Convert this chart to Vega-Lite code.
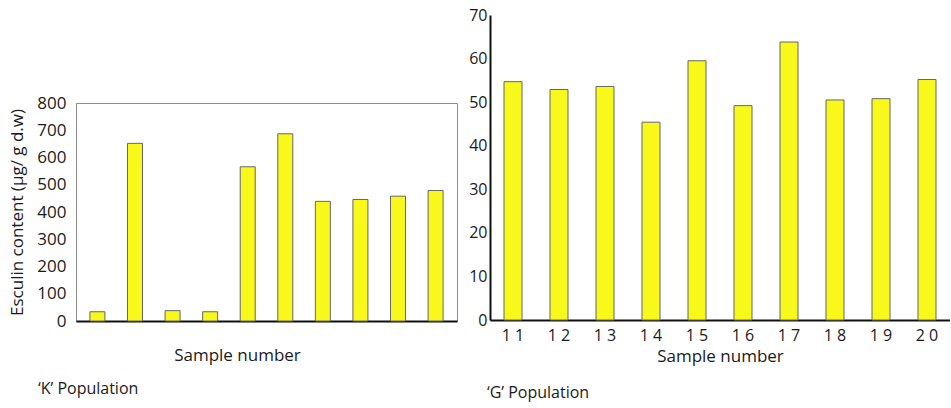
{
  "$schema": "https://vega.github.io/schema/vega-lite/v6.json",
  "padding": {"left": 8, "top": 7, "right": 0, "bottom": 5},
  "background": "white",
  "config": {
    "font": "Open Sans",
    "view": {"stroke": null},
    "axis": {"labelColor": "#1a1a1a", "titleColor": "#1a1a1a", "titleFontWeight": "normal", "grid": false, "ticks": false},
    "title": {"fontWeight": "normal", "fontSize": 16, "color": "#1a1a1a"}
  },
  "datasets": {
    "K": [
      {"sample": "1", "esculin": 34},
      {"sample": "2", "esculin": 652},
      {"sample": "3", "esculin": 38},
      {"sample": "4", "esculin": 34},
      {"sample": "5", "esculin": 566},
      {"sample": "6", "esculin": 687},
      {"sample": "7", "esculin": 439},
      {"sample": "8", "esculin": 446},
      {"sample": "9", "esculin": 458},
      {"sample": "10", "esculin": 479}
    ],
    "G": [
      {"sample": "11", "esculin": 54.7},
      {"sample": "12", "esculin": 52.9},
      {"sample": "13", "esculin": 53.6},
      {"sample": "14", "esculin": 45.4},
      {"sample": "15", "esculin": 59.5},
      {"sample": "16", "esculin": 49.2},
      {"sample": "17", "esculin": 63.8},
      {"sample": "18", "esculin": 50.5},
      {"sample": "19", "esculin": 50.8},
      {"sample": "20", "esculin": 55.2}
    ]
  },
  "spacing": 10,
  "hconcat": [
    {
      "spacing": 0,
      "vconcat": [
        {"width": 381, "height": 78, "data": {"values": []}, "mark": "point", "encoding": {}},
        {
          "width": 381,
          "height": 218,
          "view": {"stroke": "#8c8c8c", "strokeWidth": 1},
          "data": {"name": "K"},
          "title": {"text": "‘K’ Population", "orient": "bottom", "anchor": "start", "frame": "group", "dx": -38, "offset": 18},
          "mark": {"type": "bar", "width": 15, "fill": "#f8f81a", "stroke": "#666", "strokeWidth": 1},
          "encoding": {
            "x": {
              "field": "sample", "type": "ordinal", "sort": null,
              "scale": {"paddingInner": 0.6, "paddingOuter": 0.37},
              "axis": {"labels": false, "domainColor": "#111", "domainWidth": 2, "title": "Sample number", "titleFontSize": 17, "titlePadding": 26, "titleX": 161, "titleAlign": "center"}
            },
            "y": {
              "field": "esculin", "type": "quantitative",
              "scale": {"domain": [0, 800]},
              "axis": {"values": [0, 100, 200, 300, 400, 500, 600, 700, 800], "domain": false, "labelFontSize": 17, "labelPadding": 10, "title": "Esculin content (µg/ g d.w)", "titleFontSize": 17, "titlePadding": 10}
            }
          }
        }
      ]
    },
    {
      "width": 460,
      "height": 305,
      "data": {"name": "G"},
      "title": {"text": "‘G’ Population", "orient": "bottom", "anchor": "start", "frame": "group", "dx": -3, "offset": 21},
      "mark": {"type": "bar", "width": 18, "fill": "#f8f81a", "stroke": "#666", "strokeWidth": 1},
      "encoding": {
        "x": {
          "field": "sample", "type": "ordinal", "sort": null,
          "scale": {"paddingInner": 0.6, "paddingOuter": 0.3},
          "axis": {"labelExpr": "datum.label[0] + ' ' + datum.label[1]", "labelAngle": 0, "labelFontSize": 16, "labelPadding": 7, "domainColor": "#111", "domainWidth": 2, "title": "Sample number", "titleFontSize": 17, "titlePadding": 5}
        },
        "y": {
          "field": "esculin", "type": "quantitative",
          "scale": {"domain": [0, 70]},
          "axis": {"values": [0, 10, 20, 30, 40, 50, 60, 70], "domainColor": "#111", "domainWidth": 2, "labelFontSize": 16, "labelPadding": 3, "title": null}
        }
      }
    }
  ]
}
